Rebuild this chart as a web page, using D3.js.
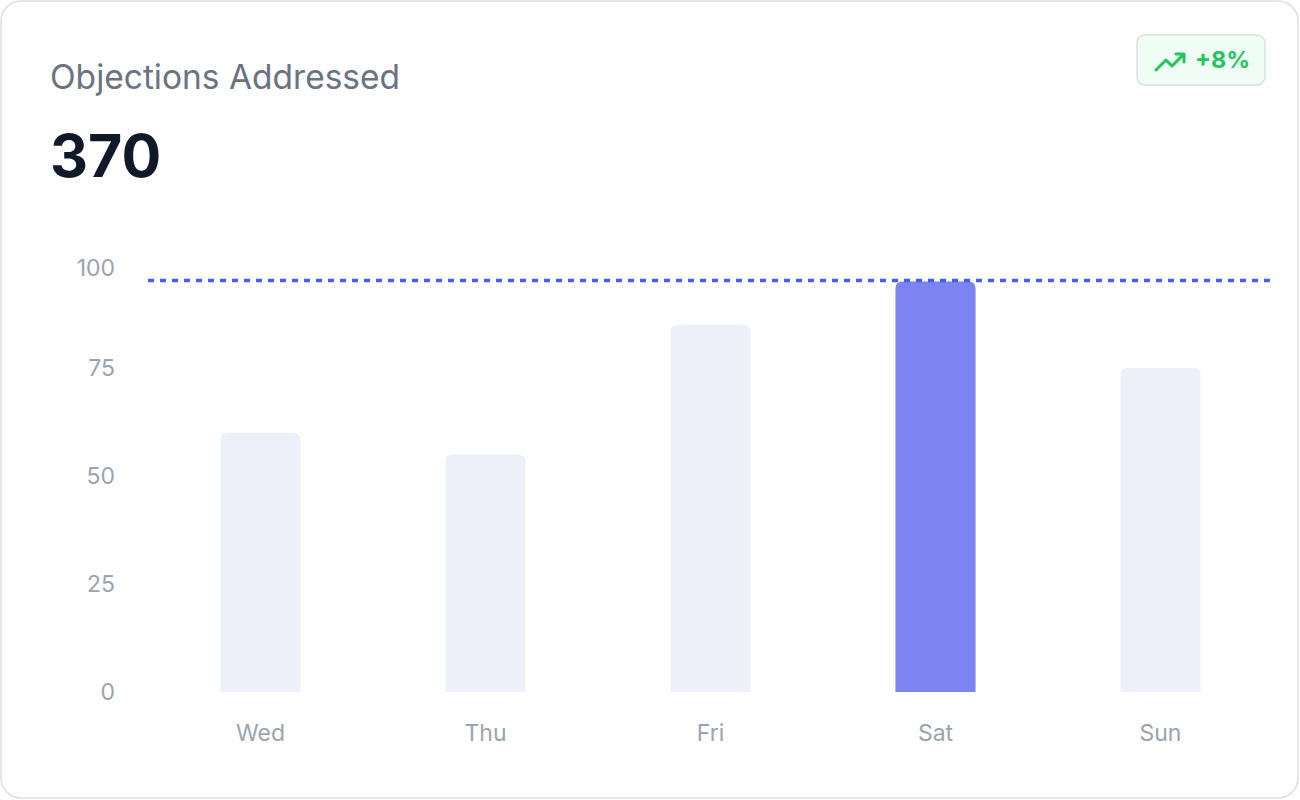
<!DOCTYPE html>
<html>
<head>
    <script src="https://cdn.jsdelivr.net/npm/d3@7"></script>
    <style>
        body { margin: 0; background: #fff; font-family: Inter, "Noto Sans", sans-serif; }
    </style>
</head>
<body>
    <div id="viz"></div>

    <script type="text/javascript">

    // chart data
    var days = ["Wed", "Thu", "Fri", "Sat", "Sun"];
    var values = [60, 55, 85, 95, 75];
    var yTicks = [0, 25, 50, 75, 100];
    var title = "Objections Addressed";
    var change = "+8%";

    var total = d3.sum(values);
    var maxVal = d3.max(values);
    var maxIdx = values.indexOf(maxVal);

    var W = 1300, H = 800;
    var svg = d3.select("#viz")
        .append("svg")
        .attr("width", W)
        .attr("height", H);

    // card
    svg.append("rect")
        .attr("x", 1).attr("y", 1)
        .attr("width", W - 3).attr("height", H - 3)
        .attr("rx", 20)
        .style("fill", "#fff")
        .style("stroke", "#dedede")
        .style("stroke-width", 1.5);

    svg.append("text")
        .attr("x", 50).attr("y", 89)
        .style("font-size", "33.5px")
        .style("fill", "#6b7280")
        .text(title);

    svg.append("text")
        .attr("x", 50).attr("y", 177)
        .style("font-size", "59px")
        .style("font-weight", 700)
        .style("fill", "#111827")
        .text(total);

    // badge
    var badge = svg.append("g").attr("transform", "translate(1137,35)");
    badge.append("rect")
        .attr("width", 128).attr("height", 50)
        .attr("rx", 8)
        .style("fill", "#f0fdf4")
        .style("stroke", "#dcdfe3")
        .style("stroke-width", 1.5);
    badge.append("path")
        .attr("d", "M19 35 L29 25 L35 31 L47 19 M39 19 L47 19 L47 27")
        .style("fill", "none")
        .style("stroke", "#22c55e")
        .style("stroke-width", 3)
        .style("stroke-linecap", "round")
        .style("stroke-linejoin", "round");
    badge.append("text")
        .attr("x", 58).attr("y", 33)
        .style("font-size", "23.5px")
        .style("font-weight", 700)
        .style("fill", "#22c55e")
        .text(change);

    // scales
    var x = d3.scaleBand()
        .domain(days)
        .range([148, 1273])
        .paddingInner(0.644)
        .paddingOuter(0.322);

    var y = d3.scaleLinear()
        .domain([0, 100])
        .range([692, 260]);

    // y labels
    svg.append("g").selectAll("text")
        .data(yTicks)
        .enter().append("text")
        .attr("x", 115)
        .attr("y", function(d){ return Math.max(y(d), 268); })
        .attr("dy", ".35em")
        .attr("text-anchor", "end")
        .style("font-size", "23px")
        .style("fill", "#9ca3af")
        .text(function(d){ return d; });

    // x labels
    svg.append("g").selectAll("text")
        .data(days)
        .enter().append("text")
        .attr("x", function(d){ return x(d) + x.bandwidth() / 2; })
        .attr("y", 733)
        .attr("dy", ".35em")
        .attr("text-anchor", "middle")
        .style("font-size", "23px")
        .style("fill", "#9ca3af")
        .text(function(d){ return d; });

    // bars with rounded top corners
    function barPath(x0, y0, w, h, r){
        r = Math.min(r, h);
        return "M" + x0 + "," + (y0 + h) +
            "V" + (y0 + r) +
            "Q" + x0 + "," + y0 + " " + (x0 + r) + "," + y0 +
            "H" + (x0 + w - r) +
            "Q" + (x0 + w) + "," + y0 + " " + (x0 + w) + "," + (y0 + r) +
            "V" + (y0 + h) + "Z";
    }

    svg.append("g").selectAll("path")
        .data(values)
        .enter().append("path")
        .attr("d", function(d, i){
            return barPath(x(days[i]), y(d), x.bandwidth(), y(0) - y(d), 7);
        })
        .style("fill", function(d, i){ return i === maxIdx ? "#7b84f1" : "#eef0f9"; });

    // max reference line
    svg.append("line")
        .attr("x1", 148).attr("x2", 1273)
        .attr("y1", y(maxVal) - 1).attr("y2", y(maxVal) - 1)
        .style("stroke", "#3f63f0")
        .style("stroke-width", 3.5)
        .style("stroke-dasharray", "6,6");

    </script>
</body>
</html>
